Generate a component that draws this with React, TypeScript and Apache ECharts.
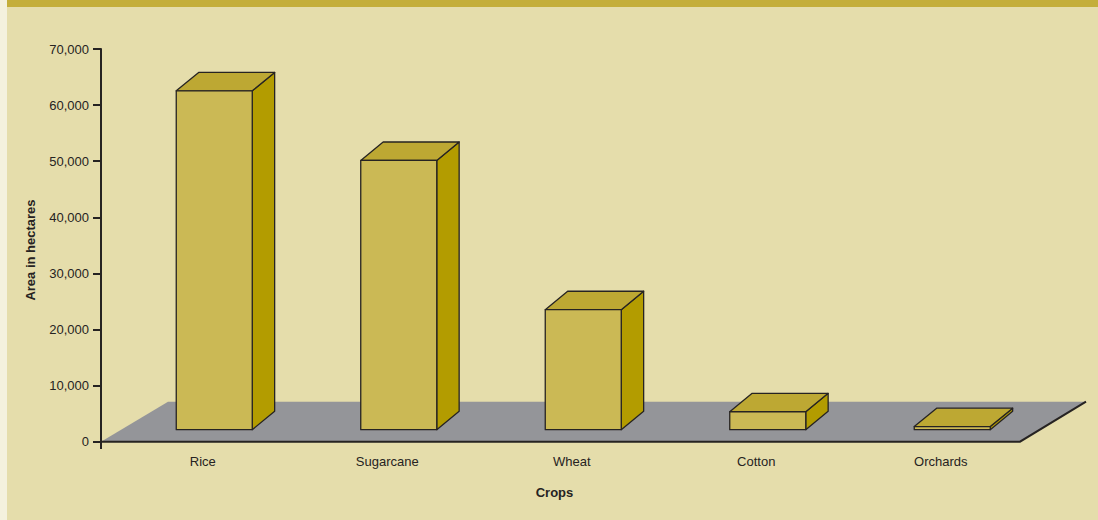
import React, { useEffect, useRef } from "react";
import * as echarts from "echarts";

// Crop area by type (hectares)
const crops = ["Rice", "Sugarcane", "Wheat", "Cotton", "Orchards"];
const areaHectares = [60400, 48000, 21400, 3200, 550];
const yTicks = [0, 10000, 20000, 30000, 40000, 50000, 60000, 70000];

const FONT = "'Liberation Sans', Arial, Helvetica, sans-serif";
const INK = "#262322";

export default function App() {
  const ref = useRef<HTMLDivElement>(null);

  useEffect(() => {
    if (!ref.current) return;
    const chart = echarts.init(ref.current, undefined, { renderer: "svg" });

    const depthX = 22.4;
    const depthY = 18.4;
    const barW = 76;

    const option: any = {
      animation: false,
      backgroundColor: "#E5DDAB",
      grid: { left: 110.5, right: 65, top: 49, bottom: 78.3, containLabel: false },
      xAxis: {
        type: "category",
        data: crops,
        axisLine: { show: false },
        axisTick: { show: false },
        axisLabel: { color: INK, fontFamily: FONT, fontSize: 13, margin: 13 },
      },
      yAxis: {
        type: "value",
        min: yTicks[0],
        max: yTicks[yTicks.length - 1],
        interval: yTicks[1] - yTicks[0],
        offset: 9.5,
        splitLine: { show: false },
        axisLine: { show: true, lineStyle: { color: INK, width: 2 } },
        axisTick: { show: true, length: 8, lineStyle: { color: INK, width: 2 } },
        axisLabel: {
          color: INK,
          fontFamily: FONT,
          fontSize: 13,
          margin: 12,
          formatter: (v: number) => v.toLocaleString("en-US"),
        },
      },
      graphic: [
        { type: "rect", z: -10, shape: { x: 0, y: 0, width: 7, height: 520 }, style: { fill: "#F4F1DD" } },
        { type: "rect", z: -10, shape: { x: 7, y: 0, width: 1091, height: 7 }, style: { fill: "#C4AE3A" } },
        // floor
        {
          type: "polygon",
          z: 0,
          shape: { points: [[101, 441.7], [1020, 441.7], [1086, 401.7], [168, 401.7]] },
          style: { fill: "#949599" },
        },
        {
          type: "polyline",
          z: 1,
          shape: { points: [[101, 441.7], [1020, 441.7], [1086, 401.7]] },
          style: { stroke: INK, lineWidth: 2, fill: "none" },
        },
        {
          type: "line",
          z: 1,
          shape: { x1: 101, y1: 441, x2: 101, y2: 449 },
          style: { stroke: INK, lineWidth: 2 },
        },
        {
          type: "text",
          x: 30,
          y: 250,
          rotation: Math.PI / 2,
          style: {
            text: "Area in hectares",
            font: `bold 13px ${FONT}`,
            fill: INK,
            align: "center",
            verticalAlign: "middle",
          },
        },
        {
          type: "text",
          x: 554.5,
          y: 492,
          style: {
            text: "Crops",
            font: `bold 13px ${FONT}`,
            fill: INK,
            align: "center",
            verticalAlign: "middle",
          },
        },
      ],
      series: [
        {
          type: "custom",
          z: 5,
          data: crops.map((c, i) => [i, areaHectares[i]]),
          renderItem: (params: any, api: any) => {
            const idx = api.value(0);
            const v = api.value(1);
            const base = api.coord([idx, 0]);
            const top = api.coord([idx, v]);
            const cx = base[0] + 11.5;
            const yb = base[1] - 12;
            const h = base[1] - top[1];
            const yt = yb - h;
            const x0 = cx - barW / 2;
            const x1 = cx + barW / 2;
            const stroke = { stroke: INK, lineWidth: 1.3, lineJoin: "round" };
            return {
              type: "group",
              children: [
                {
                  type: "polygon",
                  shape: { points: [[x1, yt], [x1, yb], [x1 + depthX, yb - depthY], [x1 + depthX, yt - depthY]] },
                  style: { fill: "#B39C00", ...stroke },
                },
                {
                  type: "polygon",
                  shape: { points: [[x0, yt], [x1, yt], [x1 + depthX, yt - depthY], [x0 + depthX, yt - depthY]] },
                  style: { fill: "#BDA833", ...stroke },
                },
                {
                  type: "rect",
                  shape: { x: x0, y: yt, width: barW, height: h },
                  style: { fill: "#CBB955", ...stroke },
                },
              ],
            };
          },
        },
      ],
    };

    chart.setOption(option);
    return () => chart.dispose();
  }, []);

  return (
    <div
      ref={ref}
      style={{ position: "fixed", left: 0, top: 0, width: 1098, height: 520 }}
    />
  );
}
